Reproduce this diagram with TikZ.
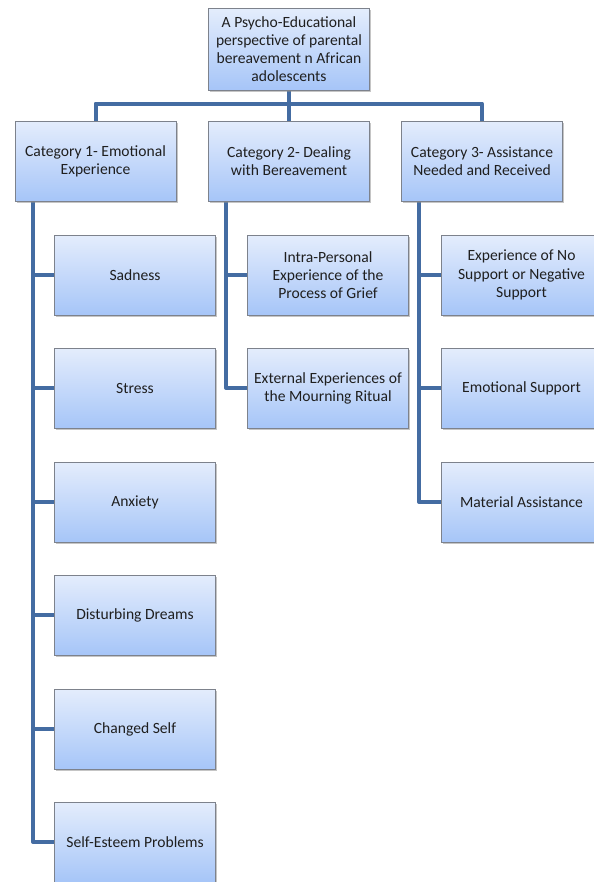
\documentclass[tikz,border=0pt]{standalone}
\usepackage{fontspec}
\setmainfont{Carlito}
\usetikzlibrary{shadows,backgrounds}
\definecolor{boxtop}{RGB}{228,237,252}
\definecolor{boxbot}{RGB}{166,197,248}
\definecolor{boxline}{RGB}{125,130,140}
\definecolor{connc}{RGB}{68,108,162}
\begin{document}
\begin{tikzpicture}[x=0.75pt,y=-0.75pt,
  box/.style={draw=boxline, line width=0.75pt, top color=boxtop, bottom color=boxbot,
    minimum width=120.75pt, minimum height=60pt, align=center, text=black!88,
    font=\fontsize{11.7}{13.6}\selectfont, inner sep=2pt,
    drop shadow={shadow xshift=1.2pt, shadow yshift=-1.5pt, fill=black!45, opacity=0.5}},
  conn/.style={draw=connc, line width=3pt, line join=round}]
\useasboundingbox (0,0) rectangle (593,882);

\coordinate (t1) at (33,201);
\coordinate (t2) at (226,201);
\coordinate (t3) at (419,201);

\node[box, minimum height=61.5pt] (top) at (289,49) {A Psycho-Educational\\perspective of parental\\bereavement n African\\adolescents};
\node[box] (cat1) at (95.5,161) {Category 1- Emotional\\Experience};
\node[box] (cat2) at (289,161) {Category 2- Dealing\\with Bereavement};
\node[box] (cat3) at (482,161) {Category 3- Assistance\\Needed and Received};

\node[box] (c1a) at (135,275) {Sadness};
\node[box] (c1b) at (135,388) {Stress};
\node[box] (c1c) at (135,502) {Anxiety};
\node[box] (c1d) at (135,615) {Disturbing Dreams};
\node[box] (c1e) at (135,729) {Changed Self};
\node[box] (c1f) at (135,842) {Self-Esteem Problems};

\node[box] (c2a) at (328,275) {Intra-Personal\\Experience of the\\Process of Grief};
\node[box] (c2b) at (328,388) {External Experiences of\\the Mourning Ritual};

\node[box] (c3a) at (521.5,275) {Experience of No\\Support or Negative\\Support};
\node[box] (c3b) at (521.5,388) {Emotional Support};
\node[box] (c3c) at (521.5,502) {Material Assistance};

\begin{scope}[on background layer]
\draw[conn] (top.south) -- (cat2.north);
\draw[conn] (cat1.north) -- ++(0,-17) -| (cat3.north);

\draw[conn] (t1) |- (c1f.west);
\draw[conn] (c1a.west) -- (t1 |- c1a.west);
\draw[conn] (c1b.west) -- (t1 |- c1b.west);
\draw[conn] (c1c.west) -- (t1 |- c1c.west);
\draw[conn] (c1d.west) -- (t1 |- c1d.west);
\draw[conn] (c1e.west) -- (t1 |- c1e.west);

\draw[conn] (t2) |- (c2b.west);
\draw[conn] (c2a.west) -- (t2 |- c2a.west);

\draw[conn] (t3) |- (c3c.west);
\draw[conn] (c3a.west) -- (t3 |- c3a.west);
\draw[conn] (c3b.west) -- (t3 |- c3b.west);
\end{scope}
\end{tikzpicture}
\end{document}
